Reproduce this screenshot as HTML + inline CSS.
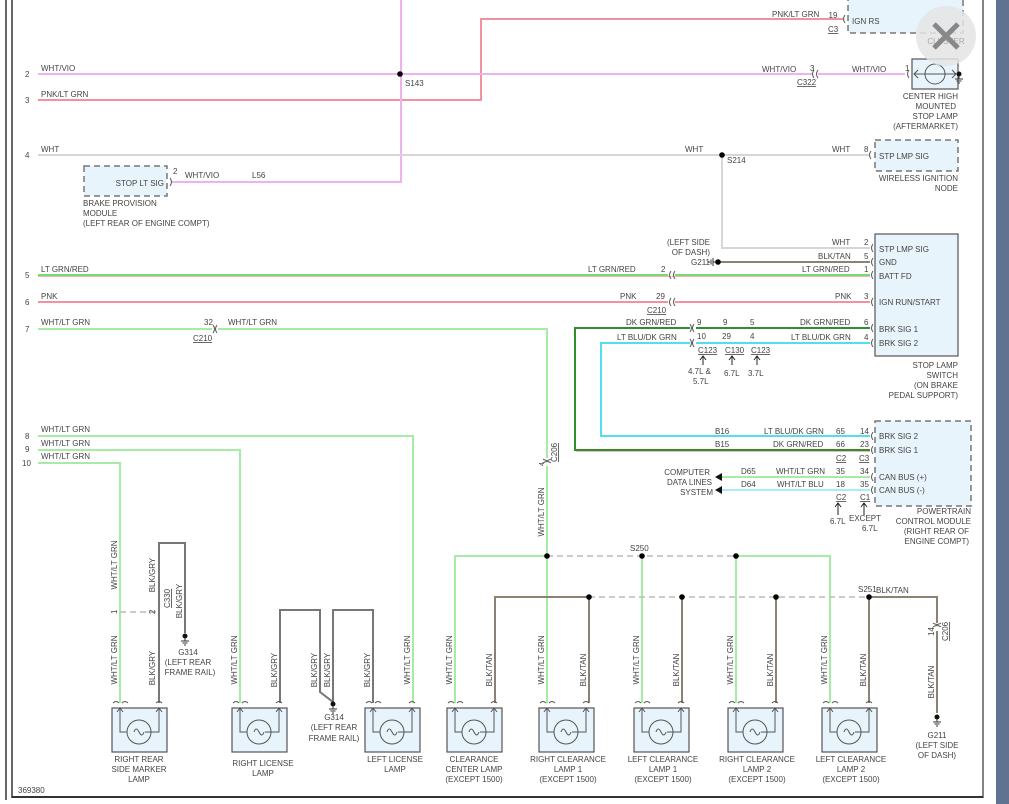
<!DOCTYPE html>
<html><head><meta charset="utf-8"><style>
html,body{margin:0;padding:0;background:#fff;}
svg{display:block;font-family:"Liberation Sans",sans-serif;font-size:8px;fill:#444;}
text{fill:#444;}
.wv{stroke:#eeb2ee;stroke-width:2;fill:none}
.plg{stroke:#f2929e;stroke-width:2;fill:none}
.w{stroke:#d6d6d6;stroke-width:2;fill:none}
.lgr{stroke:#74dc6e;stroke-width:2;fill:none}
.p{stroke:#f590a0;stroke-width:2;fill:none}
.wlg{stroke:#a6eca6;stroke-width:2;fill:none}
.dgr{stroke:#2f8f2f;stroke-width:2;fill:none}
.lbd{stroke:#55dcee;stroke-width:2;fill:none}
.bt{stroke:#8b8274;stroke-width:2;fill:none}
.bg{stroke:#777;stroke-width:2;fill:none}
.dash{stroke:#bbb;stroke-width:1.5;stroke-dasharray:6,4;fill:none}
.box{fill:#e8f4fc;stroke:#555;stroke-width:1.2}
.dbox{fill:#e8f4fc;stroke:#777;stroke-width:1.5;stroke-dasharray:6,4}
.c{stroke:#555;stroke-width:1;fill:none}
.u{text-decoration:underline}
</style></head><body>
<svg width="1009" height="804" viewBox="0 0 1009 804" xmlns="http://www.w3.org/2000/svg">
<defs>
<g id="lamp">
<rect x="0" y="0" width="55" height="44" class="box"/>
<path d="M8,-5 q3,-3 6,0 M-1,-5 q3,-3 6,0" transform="translate(2,0)" class="c"/>
<path d="M44,-5 q3,-3 6,0" class="c"/>
<path d="M8,0 V24 H15 M33,24 H47 V0 M5,4 L8,0 L11,4 M44,4 L47,0 L50,4" class="c"/>
<circle cx="27" cy="24" r="12" class="c"/>
<path d="M22,24 q2,-6 5,0 q3,6 5,0" class="c"/>
</g>
<g id="gnd"><circle cx="0" cy="0" r="2.5" fill="#111"/><path d="M0,2 V5 M-4,5 H4 M-2.5,7 H2.5 M-1,9 H1" stroke="#333" stroke-width="1"/></g>
</defs>

<!-- frame -->
<line x1="6" y1="0" x2="6" y2="800" stroke="#333" stroke-width="1.5"/>
<line x1="12" y1="0" x2="12" y2="798" stroke="#333" stroke-width="1.5"/>
<line x1="12" y1="797" x2="983" y2="797" stroke="#333" stroke-width="2"/>
<line x1="983" y1="0" x2="983" y2="798" stroke="#333" stroke-width="1.2"/>
<rect x="996" y="0" width="13" height="804" fill="#5f7390"/>

<!-- cluster -->
<rect x="848" y="-5" width="115" height="38" class="dbox"/>
<text x="852" y="24">IGN RS</text>
<text x="833" y="18" text-anchor="middle">19</text>
<text x="828" y="32" class="u">C3</text>
<path class="plg" d="M38,100 H481 V19 H843"/>
<path d="M845,15 q-3,4 0,8" class="c"/>
<text x="772" y="17">PNK/LT GRN</text>

<!-- row 2 -->
<path class="wv" d="M401,0 V182 H172"/>
<path class="wv" d="M38,74 H812 M818,74 H905"/>
<circle cx="400" cy="74" r="2.8" fill="#000"/>
<text x="405" y="86">S143</text>
<text x="25" y="77">2</text>
<text x="41" y="71">WHT/VIO</text>
<text x="762" y="72">WHT/VIO</text>
<text x="852" y="72">WHT/VIO</text>
<text x="810" y="71">3</text>
<path d="M814,70 q-3,4 0,8 M818,70 q-3,4 0,8" class="c"/>
<text x="797" y="85" class="u">C322</text>
<text x="905" y="71">1</text>
<path d="M909,70 q-3,4 0,8" class="c"/>
<rect x="912" y="59" width="46" height="30" class="box"/>
<circle cx="935" cy="74" r="10" class="c"/>
<path d="M914,74 H956 M918,70 L914,74 L918,78 M952,70 L956,74 L952,78" class="c"/>
<use href="#gnd" x="959" y="74"/>
<text x="958" y="99" text-anchor="end">CENTER HIGH</text>
<text x="956" y="109" text-anchor="end">MOUNTED</text>
<text x="958" y="119" text-anchor="end">STOP LAMP</text>
<text x="958" y="129" text-anchor="end">(AFTERMARKET)</text>

<!-- close button -->
<circle cx="946" cy="36" r="30" fill="#e4e4e4" opacity="0.85"/>
<text x="946" y="44" text-anchor="middle" fill="#bbb" style="fill:#aaa">CLUSTER</text>
<path d="M934,24 L958,48 M958,24 L934,48" stroke="#888" stroke-width="5"/>

<!-- row 3 -->
<text x="25" y="103">3</text>
<text x="41" y="97">PNK/LT GRN</text>

<!-- row 4 -->
<path class="w" d="M38,155 H870 M722,155 V248 H870"/>
<circle cx="722" cy="155" r="2.8" fill="#000"/>
<text x="727" y="163">S214</text>
<text x="25" y="158">4</text>
<text x="41" y="152">WHT</text>
<text x="685" y="152">WHT</text>
<text x="832" y="152">WHT</text>
<text x="864" y="152">8</text>
<path d="M871,151 q-3,4 0,8" class="c"/>
<rect x="875" y="140" width="83" height="31" class="dbox"/>
<text x="879" y="159">STP LMP SIG</text>
<text x="958" y="181" text-anchor="end">WIRELESS IGNITION</text>
<text x="958" y="191" text-anchor="end">NODE</text>

<!-- brake provision -->
<rect x="84" y="166" width="83" height="30" class="dbox"/>
<text x="164" y="186" text-anchor="end">STOP LT SIG</text>
<text x="173" y="174">2</text>
<path d="M170,178 q3,4 0,8" class="c"/>
<text x="185" y="178">WHT/VIO</text>
<text x="252" y="178">L56</text>
<text x="83" y="206">BRAKE PROVISION</text>
<text x="83" y="216">MODULE</text>
<text x="83" y="226">(LEFT REAR OF ENGINE COMPT)</text>

<!-- stop lamp switch -->
<rect x="875" y="234" width="83" height="122" class="box"/>
<text x="879" y="252">STP LMP SIG</text>
<text x="879" y="265">GND</text>
<text x="879" y="279">BATT FD</text>
<text x="879" y="305">IGN RUN/START</text>
<text x="879" y="332">BRK SIG 1</text>
<text x="879" y="346">BRK SIG 2</text>
<g class="c"><path d="M873,244 q-3,4 0,8 M873,258 q-3,4 0,8 M873,271 q-3,4 0,8 M873,298 q-3,4 0,8 M873,324 q-3,4 0,8 M873,339 q-3,4 0,8"/></g>
<text x="864" y="245">2</text><text x="864" y="259">5</text><text x="864" y="272">1</text><text x="864" y="299">3</text><text x="864" y="325">6</text><text x="864" y="340">4</text>
<text x="832" y="245">WHT</text>
<text x="818" y="259">BLK/TAN</text>
<text x="802" y="272">LT GRN/RED</text>
<text x="835" y="299">PNK</text>
<text x="800" y="325">DK GRN/RED</text>
<text x="791" y="340">LT BLU/DK GRN</text>
<text x="958" y="368" text-anchor="end">STOP LAMP</text>
<text x="958" y="378" text-anchor="end">SWITCH</text>
<text x="958" y="388" text-anchor="end">(ON BRAKE</text>
<text x="958" y="398" text-anchor="end">PEDAL SUPPORT)</text>

<path class="bt" d="M720,262 H870"/>
<use href="#gnd" x="718" y="262" transform="rotate(90 718 262)"/>
<circle cx="718" cy="262" r="2.8" fill="#000"/>
<text x="710" y="245" text-anchor="end">(LEFT SIDE</text>
<text x="710" y="255" text-anchor="end">OF DASH)</text>
<text x="710" y="265" text-anchor="end">G211</text>

<!-- rows 5,6 -->
<path class="lgr" d="M38,275 H668 M675,275 H870"/>
<path d="M38,276.5 H870" stroke="#f39a9a" stroke-width="0.8"/>
<text x="25" y="278">5</text>
<text x="41" y="272">LT GRN/RED</text>
<text x="588" y="272">LT GRN/RED</text>
<text x="661" y="272">2</text>
<path d="M671,271 q-3,4 0,8 M675,271 q-3,4 0,8" class="c"/>
<path class="p" d="M38,302 H668 M675,302 H870"/>
<text x="25" y="305">6</text>
<text x="41" y="299">PNK</text>
<text x="620" y="299">PNK</text>
<text x="656" y="299">29</text>
<path d="M671,298 q-3,4 0,8 M675,298 q-3,4 0,8" class="c"/>
<text x="647" y="313" class="u">C210</text>

<!-- brk sig wires -->
<path class="dgr" d="M690,328 H575 V450 H870 M696,328 H870"/>
<path d="M576,451.5 H870" stroke="#f39a9a" stroke-width="0.8"/>
<path class="lbd" d="M690,343 H601 V436 H870 M696,343 H870"/>
<path d="M690,324 q3,4 0,8 M694,324 q-3,4 0,8 M690,339 q3,4 0,8 M694,339 q-3,4 0,8" class="c"/>
<text x="626" y="325">DK GRN/RED</text>
<text x="617" y="340">LT BLU/DK GRN</text>
<text x="697" y="325">9</text><text x="723" y="325">9</text><text x="750" y="325">5</text>
<text x="697" y="339">10</text><text x="722" y="339">29</text><text x="750" y="339">4</text>
<text x="698" y="353" class="u">C123</text>
<text x="725" y="353" class="u">C130</text>
<text x="751" y="353" class="u">C123</text>
<path d="M703,365 V357 M700,360 L703,356 L706,360 M732,365 V357 M729,360 L732,356 L735,360 M757,365 V357 M754,360 L757,356 L760,360" stroke="#222" stroke-width="1" fill="none"/>
<text x="688" y="374">4.7L &amp;</text>
<text x="693" y="384">5.7L</text>
<text x="724" y="376">6.7L</text>
<text x="748" y="376">3.7L</text>

<!-- PCM -->
<rect x="875" y="421" width="96" height="85" class="dbox"/>
<text x="879" y="439">BRK SIG 2</text>
<text x="879" y="453">BRK SIG 1</text>
<text x="879" y="480">CAN BUS (+)</text>
<text x="879" y="493">CAN BUS (-)</text>
<g class="c"><path d="M873,432 q-3,4 0,8 M873,446 q-3,4 0,8 M873,473 q-3,4 0,8 M873,486 q-3,4 0,8"/></g>
<text x="715" y="434">B16</text><text x="764" y="434">LT BLU/DK GRN</text><text x="836" y="434">65</text><text x="860" y="434">14</text>
<text x="715" y="447">B15</text><text x="773" y="447">DK GRN/RED</text><text x="836" y="447">66</text><text x="860" y="447">23</text>
<text x="836" y="461" class="u">C2</text><text x="859" y="461" class="u">C3</text>
<path class="wlg" d="M722,477 H870"/>
<path class="lbd" d="M722,490 H870" style="stroke:#a8ecf4"/>
<path d="M715,477 L722,473 V481 Z M715,490 L722,486 V494 Z" fill="#111"/>
<text x="741" y="474">D65</text><text x="776" y="474">WHT/LT GRN</text><text x="836" y="474">35</text><text x="860" y="474">34</text>
<text x="741" y="487">D64</text><text x="777" y="487">WHT/LT BLU</text><text x="836" y="487">18</text><text x="860" y="487">35</text>
<text x="836" y="500" class="u">C2</text><text x="860" y="500" class="u">C1</text>
<path d="M838,515 V504 M835,507 L838,503 L841,507 M864,515 V504 M861,507 L864,503 L867,507" stroke="#222" stroke-width="1" fill="none"/>
<text x="830" y="524">6.7L</text>
<text x="849" y="521">EXCEPT</text>
<text x="862" y="531">6.7L</text>
<text x="710" y="475" text-anchor="end">COMPUTER</text>
<text x="712" y="485" text-anchor="end">DATA LINES</text>
<text x="713" y="495" text-anchor="end">SYSTEM</text>
<text x="971" y="514" text-anchor="end">POWERTRAIN</text>
<text x="971" y="524" text-anchor="end">CONTROL MODULE</text>
<text x="969" y="534" text-anchor="end">(RIGHT REAR OF</text>
<text x="969" y="544" text-anchor="end">ENGINE COMPT)</text>

<!-- row 7 -->
<path class="wlg" d="M38,329 H212 M218,329 H547 V458 M547,466 V556"/>
<path d="M213,325 q3,4 0,8 M217,325 q-3,4 0,8" class="c"/>
<text x="25" y="332">7</text>
<text x="41" y="325">WHT/LT GRN</text>
<text x="204" y="325">32</text>
<text x="193" y="341" class="u">C210</text>
<text x="228" y="325">WHT/LT GRN</text>
<path d="M543,459 q4,3 8,0 M543,463 q4,-3 8,0" class="c"/>
<text x="544" y="466" transform="rotate(-90 544 466)" style="font-size:7px">4</text>
<text x="557" y="462" transform="rotate(-90 557 462)" class="u">C206</text>
<text x="544" y="512" transform="rotate(-90 544 512)" text-anchor="middle">WHT/LT GRN</text>

<!-- rows 8-10 -->
<path class="wlg" d="M38,436 H413 V703 M38,450 H240 V703 M38,463 H120 V703"/>
<text x="25" y="439">8</text><text x="25" y="452">9</text><text x="22" y="466">10</text>
<text x="41" y="432">WHT/LT GRN</text>
<text x="41" y="446">WHT/LT GRN</text>
<text x="41" y="459">WHT/LT GRN</text>

<!-- side marker section -->
<path class="bg" d="M159,703 V543 H185 V633"/>
<path d="M120,612 H159" class="dash"/>
<use href="#gnd" x="185" y="636"/>
<text x="117" y="565" transform="rotate(-90 117 565)" text-anchor="middle">WHT/LT GRN</text>
<text x="117" y="660" transform="rotate(-90 117 660)" text-anchor="middle">WHT/LT GRN</text>
<text x="155" y="575" transform="rotate(-90 155 575)" text-anchor="middle">BLK/GRY</text>
<text x="155" y="668" transform="rotate(-90 155 668)" text-anchor="middle">BLK/GRY</text>
<text x="182" y="601" transform="rotate(-90 182 601)" text-anchor="middle">BLK/GRY</text>
<text x="170" y="608" transform="rotate(-90 170 608)" class="u">C330</text>
<text x="117" y="614" transform="rotate(-90 117 614)">1</text>
<text x="155" y="614" transform="rotate(-90 155 614)">2</text>
<text x="188" y="655" text-anchor="middle">G314</text>
<text x="188" y="665" text-anchor="middle">(LEFT REAR</text>
<text x="190" y="675" text-anchor="middle">FRAME RAIL)</text>

<!-- license section -->
<path class="bg" d="M280,703 V610 H320 V692 L333,702 M333,702 V610 H373 V703"/>
<use href="#gnd" x="333" y="704"/>
<text x="237" y="660" transform="rotate(-90 237 660)" text-anchor="middle">WHT/LT GRN</text>
<text x="277" y="670" transform="rotate(-90 277 670)" text-anchor="middle">BLK/GRY</text>
<text x="317" y="670" transform="rotate(-90 317 670)" text-anchor="middle">BLK/GRY</text>
<text x="330" y="670" transform="rotate(-90 330 670)" text-anchor="middle">BLK/GRY</text>
<text x="370" y="670" transform="rotate(-90 370 670)" text-anchor="middle">BLK/GRY</text>
<text x="410" y="660" transform="rotate(-90 410 660)" text-anchor="middle">WHT/LT GRN</text>
<text x="334" y="720" text-anchor="middle">G314</text>
<text x="334" y="730" text-anchor="middle">(LEFT REAR</text>
<text x="334" y="741" text-anchor="middle">FRAME RAIL)</text>

<!-- clearance section -->
<path class="wlg" d="M547,556 H455 V703 M547,556 V703 M642,556 V703 M736,556 H830 V703 M736,556 V703"/>
<path d="M547,556 H736" class="dash"/>
<circle cx="547" cy="556" r="2.8" fill="#000"/><circle cx="642" cy="556" r="2.8" fill="#000"/><circle cx="736" cy="556" r="2.8" fill="#000"/>
<text x="630" y="551">S250</text>
<path class="bt" d="M589,597 H495 V703 M589,597 V703 M682,597 V703 M776,597 V703 M869,597 V703 M869,597 H937 V623 M937,631 V713"/>
<path d="M589,597 H869" class="dash"/>
<circle cx="589" cy="597" r="2.8" fill="#000"/><circle cx="682" cy="597" r="2.8" fill="#000"/><circle cx="776" cy="597" r="2.8" fill="#000"/><circle cx="869" cy="597" r="2.8" fill="#000"/>
<text x="858" y="592">S251</text>
<text x="876" y="593">BLK/TAN</text>
<path d="M933,623 q4,3 8,0 M933,627 q4,-3 8,0" class="c"/>
<text x="934" y="636" transform="rotate(-90 934 636)">14</text>
<text x="948" y="641" transform="rotate(-90 948 641)" class="u">C206</text>
<text x="934" y="682" transform="rotate(-90 934 682)" text-anchor="middle">BLK/TAN</text>
<use href="#gnd" x="937" y="717"/>
<text x="937" y="738" text-anchor="middle">G211</text>
<text x="937" y="748" text-anchor="middle">(LEFT SIDE</text>
<text x="937" y="758" text-anchor="middle">OF DASH)</text>

<text x="452" y="660" transform="rotate(-90 452 660)" text-anchor="middle">WHT/LT GRN</text>
<text x="492" y="670" transform="rotate(-90 492 670)" text-anchor="middle">BLK/TAN</text>
<text x="544" y="660" transform="rotate(-90 544 660)" text-anchor="middle">WHT/LT GRN</text>
<text x="586" y="670" transform="rotate(-90 586 670)" text-anchor="middle">BLK/TAN</text>
<text x="639" y="660" transform="rotate(-90 639 660)" text-anchor="middle">WHT/LT GRN</text>
<text x="679" y="670" transform="rotate(-90 679 670)" text-anchor="middle">BLK/TAN</text>
<text x="733" y="660" transform="rotate(-90 733 660)" text-anchor="middle">WHT/LT GRN</text>
<text x="773" y="670" transform="rotate(-90 773 670)" text-anchor="middle">BLK/TAN</text>
<text x="827" y="660" transform="rotate(-90 827 660)" text-anchor="middle">WHT/LT GRN</text>
<text x="866" y="670" transform="rotate(-90 866 670)" text-anchor="middle">BLK/TAN</text>

<!-- lamps -->
<use href="#lamp" x="112" y="708"/>
<use href="#lamp" x="232" y="708"/>
<use href="#lamp" x="365" y="708"/>
<use href="#lamp" x="447" y="708"/>
<use href="#lamp" x="539" y="708"/>
<use href="#lamp" x="634" y="708"/>
<use href="#lamp" x="728" y="708"/>
<use href="#lamp" x="822" y="708"/>

<text x="139" y="762" text-anchor="middle">RIGHT REAR</text>
<text x="139" y="772" text-anchor="middle">SIDE MARKER</text>
<text x="139" y="782" text-anchor="middle">LAMP</text>
<text x="263" y="766" text-anchor="middle">RIGHT LICENSE</text>
<text x="263" y="776" text-anchor="middle">LAMP</text>
<text x="395" y="762" text-anchor="middle">LEFT LICENSE</text>
<text x="395" y="772" text-anchor="middle">LAMP</text>
<text x="474" y="762" text-anchor="middle">CLEARANCE</text>
<text x="474" y="772" text-anchor="middle">CENTER LAMP</text>
<text x="474" y="782" text-anchor="middle">(EXCEPT 1500)</text>
<text x="568" y="762" text-anchor="middle">RIGHT CLEARANCE</text>
<text x="568" y="772" text-anchor="middle">LAMP 1</text>
<text x="568" y="782" text-anchor="middle">(EXCEPT 1500)</text>
<text x="663" y="762" text-anchor="middle">LEFT CLEARANCE</text>
<text x="663" y="772" text-anchor="middle">LAMP 1</text>
<text x="663" y="782" text-anchor="middle">(EXCEPT 1500)</text>
<text x="757" y="762" text-anchor="middle">RIGHT CLEARANCE</text>
<text x="757" y="772" text-anchor="middle">LAMP 2</text>
<text x="757" y="782" text-anchor="middle">(EXCEPT 1500)</text>
<text x="851" y="762" text-anchor="middle">LEFT CLEARANCE</text>
<text x="851" y="772" text-anchor="middle">LAMP 2</text>
<text x="851" y="782" text-anchor="middle">(EXCEPT 1500)</text>

<text x="18" y="793">369380</text>
</svg>
</body></html>
